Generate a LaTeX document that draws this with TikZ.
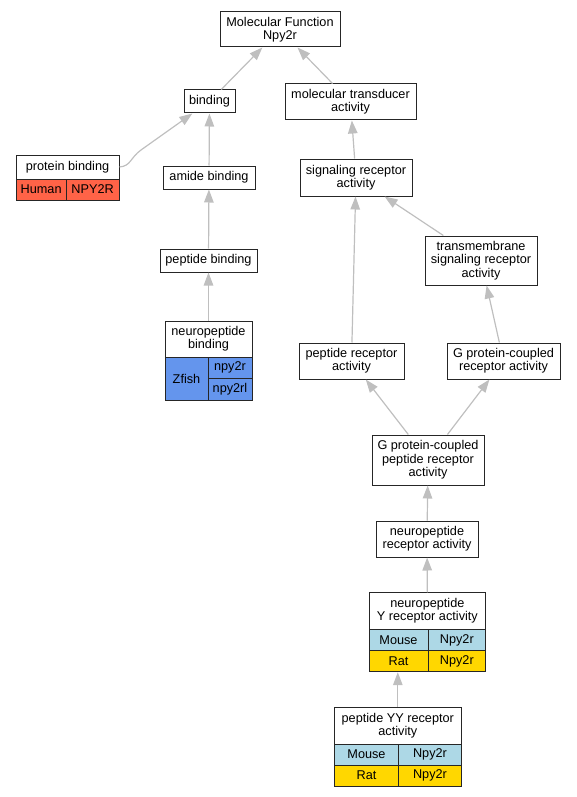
\documentclass[tikz,border=0pt]{standalone}
\usepackage{fontspec}
\setmainfont{Liberation Sans}
\usetikzlibrary{arrows.meta}
\definecolor{human}{HTML}{FF6347}
\definecolor{zfish}{HTML}{6495ED}
\definecolor{mouse}{HTML}{ADD8E6}
\definecolor{rat}{HTML}{FFD700}

\begin{document}
\begin{tikzpicture}[x=1pt,y=-1pt,
  term/.style={draw=black!85, line width=1pt, fill=white, inner sep=0pt, align=center,
    font=\fontsize{12.7}{13.3}\selectfont},
  edge/.style={draw=black!25, line width=1.2pt, -{Triangle[length=13pt,width=9.5pt]}}]
\useasboundingbox (0,0) rectangle (576,797);
% GO terms
\node[term, minimum width=120pt, minimum height=35pt] (mf) at (280,29.5) {Molecular Function\\Npy2r};
\node[term, minimum width=51pt, minimum height=23pt] (bind) at (209.5,101.5) {binding};
\node[term, minimum width=131pt, minimum height=36pt] (mta) at (350.5,102) {molecular transducer\\activity};
\node[term, minimum width=92pt, minimum height=23pt] (amide) at (209,177.5) {amide binding};
\node[term, minimum width=112pt, minimum height=37pt] (sra) at (356,177.5) {signaling receptor\\activity};
\node[term, minimum width=112pt, minimum height=49pt] (tsra) at (481,260.5) {transmembrane\\signaling receptor\\activity};
\node[term, minimum width=97pt, minimum height=23pt] (pepb) at (208.5,260.5) {peptide binding};
\node[term, minimum width=105pt, minimum height=36pt] (pra) at (351.5,361) {peptide receptor\\activity};
\node[term, minimum width=113pt, minimum height=36pt] (gpcr) at (503.5,361) {G protein-coupled\\receptor activity};
\node[term, minimum width=112pt, minimum height=50pt] (gpcpra) at (428,460) {G protein-coupled\\peptide receptor\\activity};
\node[term, minimum width=102pt, minimum height=36pt] (npra) at (427,539) {neuropeptide\\receptor activity};
% protein binding with Human gene
\node[term, minimum width=103pt, minimum height=24pt] (pb) at (67.5,167) {protein binding};
\node[term, fill=human, minimum width=50.3pt, minimum height=21pt] (pbh) at (41.15,189.5) {Human};
\node[term, fill=human, minimum width=52.7pt, minimum height=21pt] (pbg) at (92.65,189.5) {NPY2R};
% neuropeptide binding with Zfish genes
\node[term, minimum width=87pt, minimum height=36pt] (npb) at (208.5,339) {neuropeptide\\binding};
\node[term, fill=zfish, minimum width=43pt, minimum height=43pt] (npbz) at (186.5,378.5) {Zfish};
\node[term, fill=zfish, minimum width=44pt, minimum height=21.3pt] (npbg1) at (230,367.65) {npy2r};
\node[term, fill=zfish, minimum width=44pt, minimum height=21.7pt] (npbg2) at (230,389.15) {npy2rl};
% neuropeptide Y receptor activity
\node[term, minimum width=116.7pt, minimum height=36.3pt] (npy) at (427.35,611) {neuropeptide\\Y receptor activity};
\node[term, fill=mouse, minimum width=59pt, minimum height=21.4pt] (npym1) at (398.5,640) {Mouse};
\node[term, fill=mouse, minimum width=57.7pt, minimum height=21.4pt] (npyg1) at (456.85,640) {Npy2r};
\node[term, fill=rat, minimum width=59pt, minimum height=21pt] (npym2) at (398.5,661.2) {Rat};
\node[term, fill=rat, minimum width=57.7pt, minimum height=21pt] (npyg2) at (456.85,661.2) {Npy2r};
% peptide YY receptor activity
\node[term, minimum width=127pt, minimum height=36.7pt] (pyy) at (397.8,725.65) {peptide YY receptor\\activity};
\node[term, fill=mouse, minimum width=64.4pt, minimum height=21pt] (pyym1) at (366.5,754.5) {Mouse};
\node[term, fill=mouse, minimum width=62.6pt, minimum height=21pt] (pyyg1) at (430,754.5) {Npy2r};
\node[term, fill=rat, minimum width=64.4pt, minimum height=21.3pt] (pyym2) at (366.5,775.65) {Rat};
\node[term, fill=rat, minimum width=62.6pt, minimum height=21.3pt] (pyyg2) at (430,775.65) {Npy2r};
% is_a edges
\draw[edge] (bind) -- (mf);
\draw[edge] (mta) -- (mf);
\draw[edge] (pb.east) .. controls (131,166) and (130,158) .. (141,150) -- (bind.215);
\draw[edge] (amide) -- (bind);
\draw[edge] (pepb) -- (amide);
\draw[edge] (npb.north) -- (pepb);
\draw[edge] (sra) -- (mta);
\draw[edge] (tsra) -- (sra);
\draw[edge] (pra) -- (sra);
\draw[edge] (gpcr) -- (tsra);
\draw[edge] (gpcpra) -- (pra);
\draw[edge] (gpcpra) -- (gpcr);
\draw[edge] (npra) -- (gpcpra);
\draw[edge] (npy.north) -- (npra);
\draw[edge] (pyy.north) -- (pyy.north |- npym2.south);
\end{tikzpicture}
\end{document}
